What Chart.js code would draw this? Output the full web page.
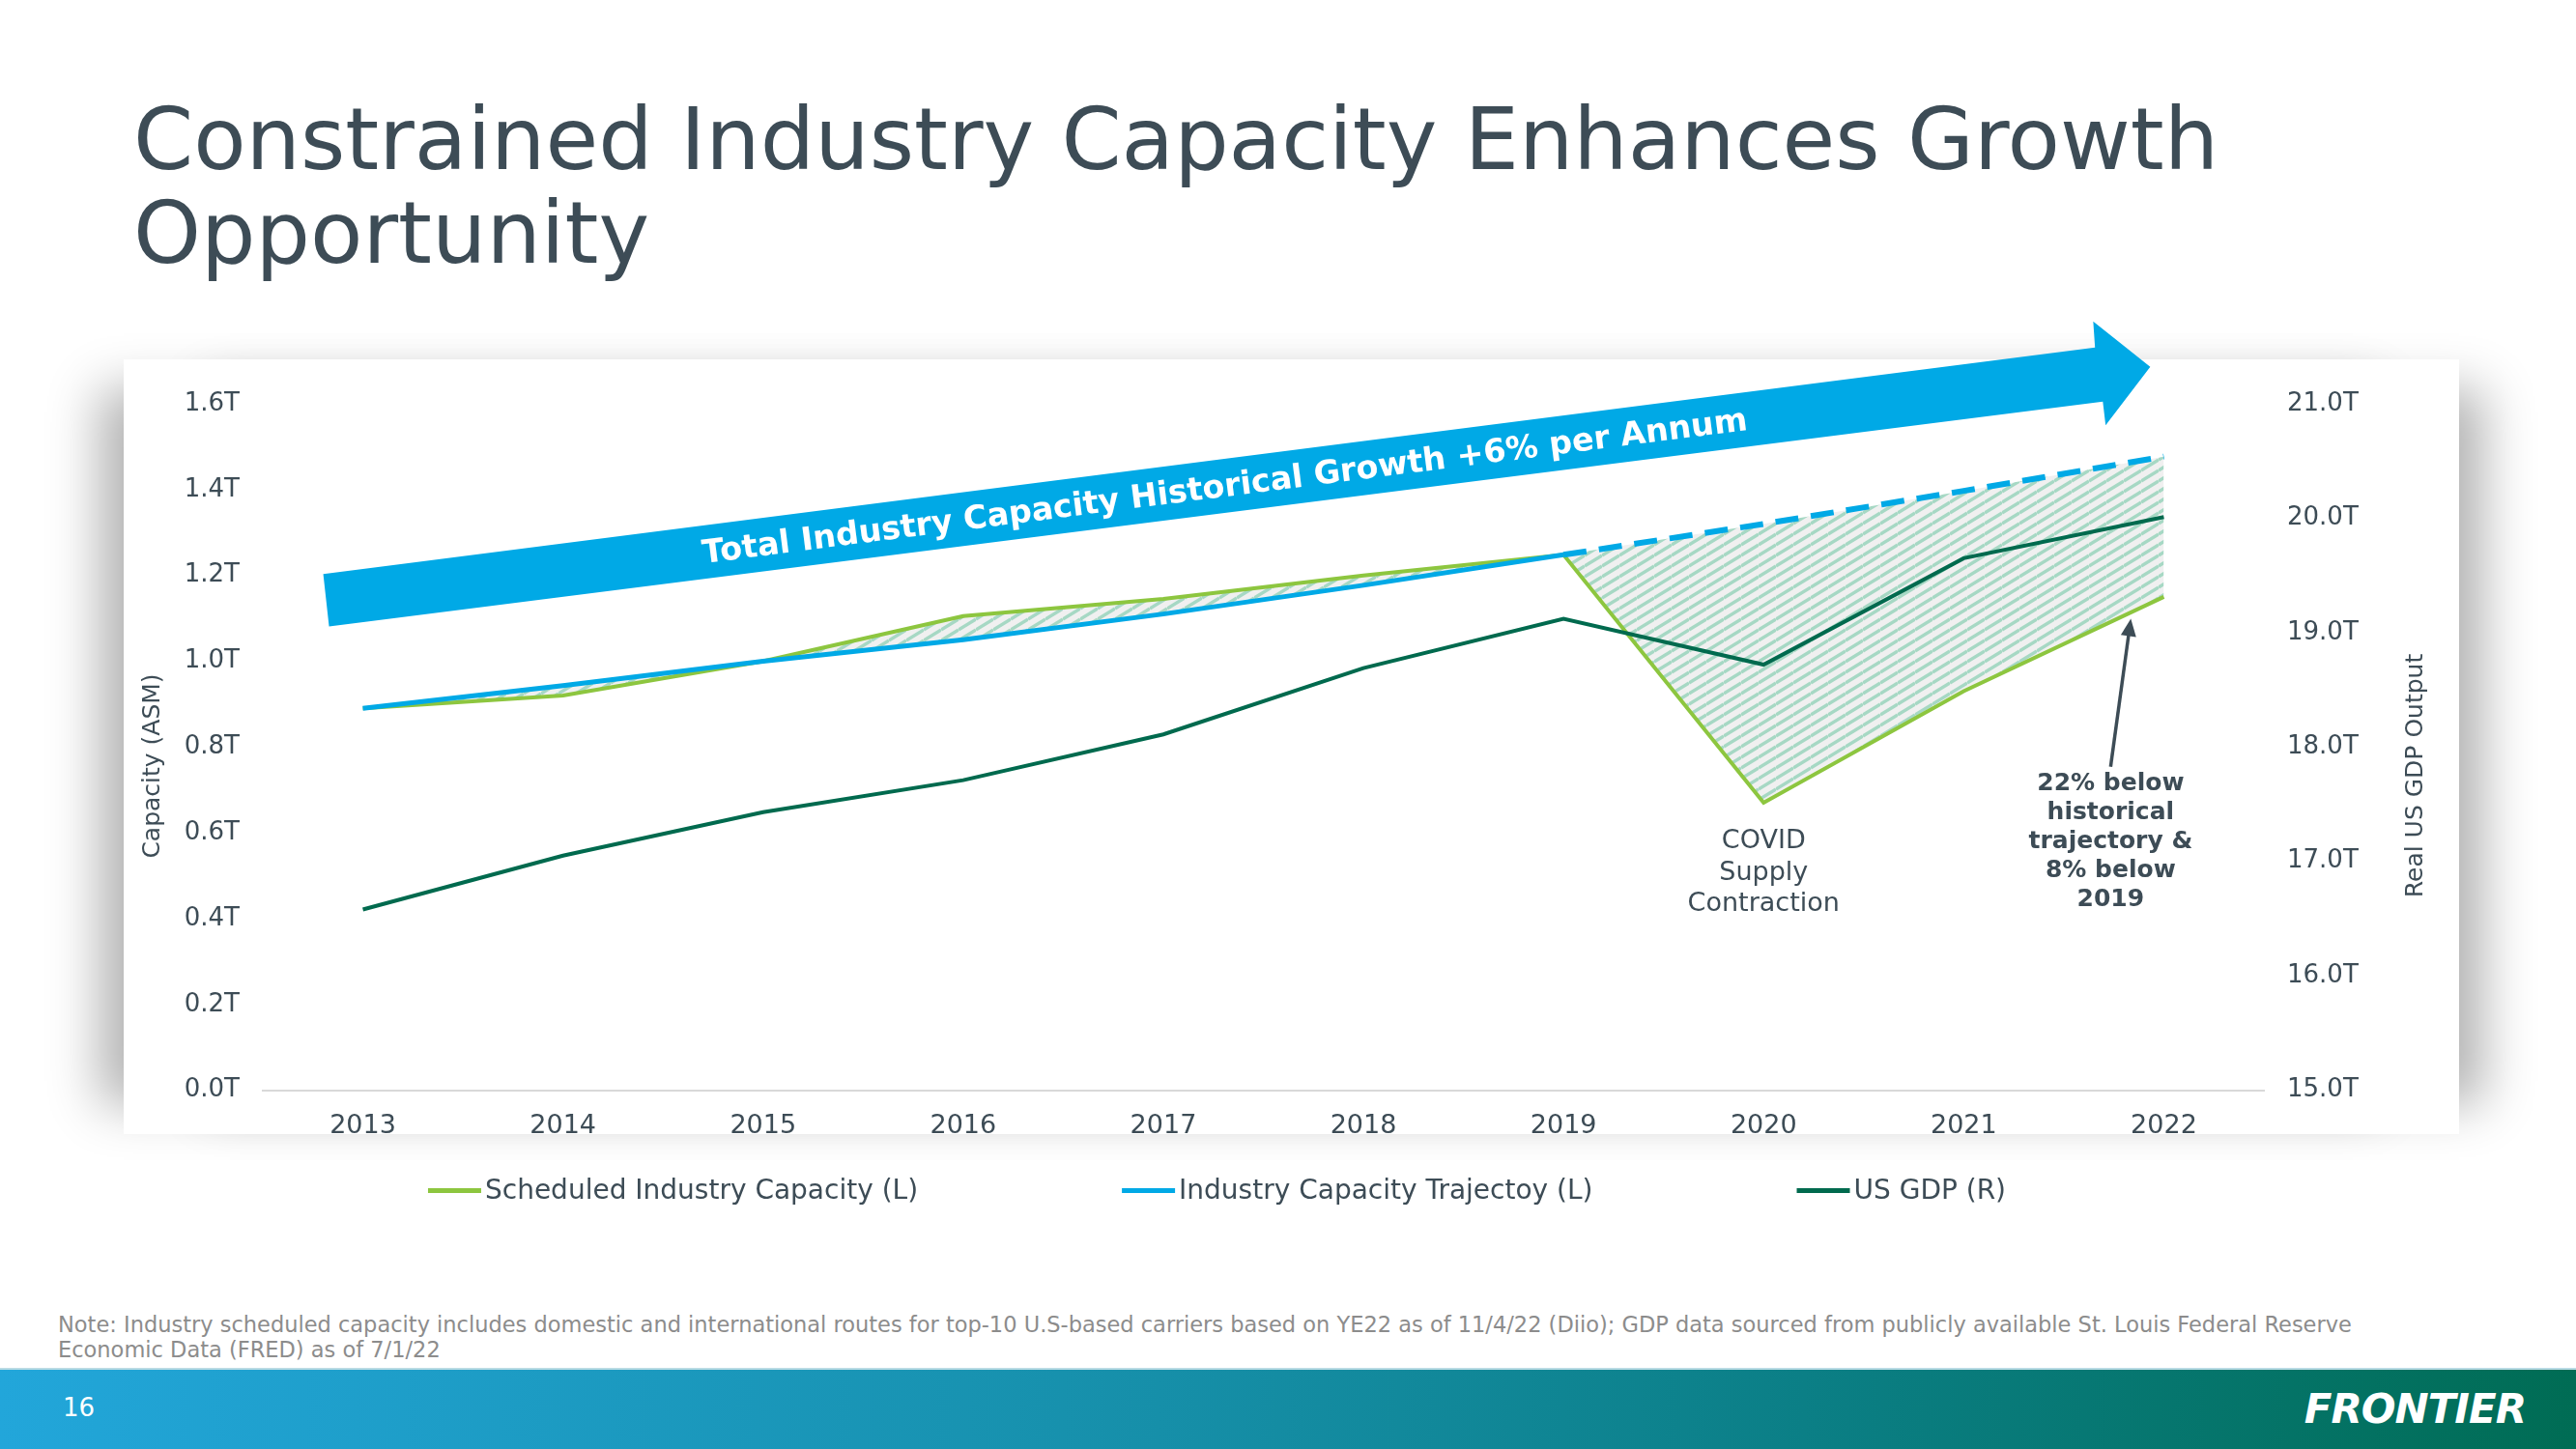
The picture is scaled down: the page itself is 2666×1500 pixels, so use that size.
<!DOCTYPE html>
<html lang="en">
<head>
  <meta charset="UTF-8">
  <title>Constrained Industry Capacity Enhances Growth Opportunity</title>
  <script src="https://cdn.jsdelivr.net/npm/chart.js"></script>
  <style>
    body {
      margin: 0;
      width: 2666px;
      height: 1500px;
      overflow: hidden;
      background: #ffffff;
      font-family: 'DejaVu Sans', Verdana, sans-serif;
      position: relative;
    }
    h1 {
      position: absolute;
      left: 138px;
      top: 96px;
      margin: 0;
      font-weight: normal;
      font-size: 89px;
      line-height: 97px;
      color: #3d4c56;
    }
    .card {
      position: absolute;
      left: 128px;
      top: 372px;
      width: 2417px;
      height: 802px;
      background: #ffffff;
      box-shadow: -55px 0 50px -30px rgba(0, 0, 0, 0.3), 55px 0 50px -30px rgba(0, 0, 0, 0.3);
    }
    #wrap {
      position: absolute;
      left: 128px;
      top: 300px;
      width: 2417px;
      height: 990px;
    }
    .note {
      position: absolute;
      left: 60px;
      top: 1358px;
      font-size: 22.5px;
      line-height: 26px;
      color: #8c8c8c;
      white-space: nowrap;
    }
    .footer {
      position: absolute;
      left: 0;
      top: 1416px;
      width: 2666px;
      height: 84px;
      background: linear-gradient(90deg, #22a6da 0%, #168fa9 45%, #0b7f86 70%, #006c54 100%);
      border-top: 2px solid #b9dbe4;
      box-sizing: border-box;
    }
    .page {
      position: absolute;
      left: 65px;
      top: 24px;
      font-size: 26px;
      color: #ffffff;
    }
    .logo {
      position: absolute;
      right: 52px;
      top: 16px;
      font-size: 42px;
      font-weight: bold;
      font-style: italic;
      color: #ffffff;
      letter-spacing: -1px;
    }
  </style>
</head>
<body>
  <h1>Constrained Industry Capacity Enhances Growth<br>Opportunity</h1>
  <div class="card"></div>
  <div id="wrap"><canvas id="chart"></canvas></div>
  <div class="note">Note: Industry scheduled capacity includes domestic and international routes for top-10 U.S-based carriers based on YE22 as of 11/4/22 (Diio); GDP data sourced from publicly available St. Louis Federal Reserve<br>Economic Data (FRED) as of 7/1/22</div>
  <div class="footer"><span class="page">16</span><span class="logo">FRONTIER</span></div>

  <script>
    const years = ['2013', '2014', '2015', '2016', '2017', '2018', '2019', '2020', '2021', '2022'];
    const scheduledCapacity = [0.89, 0.92, 1.00, 1.105, 1.145, 1.20, 1.248, 0.67, 0.93, 1.15];
    const capacityTrajectory = [0.89, 0.943, 1.00, 1.05, 1.11, 1.177, 1.248, 1.32, 1.397, 1.477];
    const usGdp = [16.58, 17.05, 17.43, 17.71, 18.11, 18.69, 19.12, 18.72, 19.65, 20.01];
    const leftTicks = { min: 0, max: 1.6, step: 0.2 };
    const rightTicks = { min: 15, max: 21, step: 1 };
    const dashFromIndex = 6; // trajectory is a projection after 2019

    const textColor = '#3d4c56';
    const font = "'DejaVu Sans', Verdana, sans-serif";

    // diagonal hatch used for the gap between trajectory and scheduled capacity
    function makeHatch() {
      const w = 18, h = 11;
      const c = document.createElement('canvas');
      c.width = w; c.height = h;
      const g = c.getContext('2d');
      g.fillStyle = '#f0f0f0';
      g.fillRect(0, 0, w, h);
      g.strokeStyle = '#a6d8c4';
      g.lineWidth = 3.4;
      for (const dy of [-h, 0, h]) {
        g.beginPath();
        g.moveTo(0, h + dy);
        g.lineTo(w, dy);
        g.stroke();
      }
      return g.createPattern(c, 'repeat');
    }
    const hatch = makeHatch();

    const decor = {
      id: 'decor',
      afterDatasetsDraw(chart) {
        const { ctx } = chart;
        const xs = chart.scales.x, ys = chart.scales.y;
        const x0 = xs.getPixelForValue(0), x9 = xs.getPixelForValue(9);
        const px = i => x0 + i * (x9 - x0) / 9;
        const py = v => ys.getPixelForValue(v);

        // big growth arrow
        const arrow = [[-0.198, 1.203], [8.656, 1.731], [8.647, 1.792], [8.932, 1.686],
                       [8.709, 1.550], [8.695, 1.605], [-0.169, 1.081]];
        ctx.save();
        ctx.fillStyle = '#00a9e6';
        ctx.beginPath();
        arrow.forEach(([i, v], k) => k ? ctx.lineTo(px(i), py(v)) : ctx.moveTo(px(i), py(v)));
        ctx.closePath();
        ctx.fill();

        const ang = Math.atan2(py(1.731) - py(1.203), px(8.656) - px(-0.198));
        ctx.translate(px(4.307), py(1.408));
        ctx.rotate(ang);
        ctx.fillStyle = '#ffffff';
        ctx.font = 'bold 33.4px ' + font;
        ctx.textAlign = 'center';
        ctx.textBaseline = 'middle';
        ctx.fillText('Total Industry Capacity Historical Growth +6% per Annum', 0, 2);
        ctx.restore();

        // COVID note
        ctx.save();
        ctx.fillStyle = textColor;
        ctx.textAlign = 'center';
        ctx.textBaseline = 'middle';
        ctx.font = '27px ' + font;
        ['COVID', 'Supply', 'Contraction'].forEach((t, k) => ctx.fillText(t, px(7), py(0.58) + k * 32.5));

        // 2022 note with pointer
        ctx.font = 'bold 25px ' + font;
        ['22% below', 'historical', 'trajectory &', '8% below', '2019'].forEach((t, k) =>
          ctx.fillText(t, px(8.734), py(0.713) + k * 30));
        const bx = px(8.734), by = py(0.754), tx = px(8.835), ty = py(1.099);
        const a = Math.atan2(ty - by, tx - bx);
        ctx.strokeStyle = textColor;
        ctx.lineWidth = 3.5;
        ctx.beginPath();
        ctx.moveTo(bx, by);
        ctx.lineTo(tx - 14 * Math.cos(a), ty - 14 * Math.sin(a));
        ctx.stroke();
        ctx.beginPath();
        ctx.moveTo(tx, ty);
        ctx.lineTo(tx - 18 * Math.cos(a) + 8 * Math.sin(a), ty - 18 * Math.sin(a) - 8 * Math.cos(a));
        ctx.lineTo(tx - 18 * Math.cos(a) - 8 * Math.sin(a), ty - 18 * Math.sin(a) + 8 * Math.cos(a));
        ctx.closePath();
        ctx.fill();
        ctx.restore();
      },
      afterDraw(chart) {
        const { ctx, chartArea } = chart;
        ctx.save();
        ctx.fillStyle = textColor;
        ctx.textAlign = 'center';
        ctx.textBaseline = 'middle';
        ctx.font = '25px ' + font;

        // axis titles (both read bottom to top)
        ctx.save();
        ctx.translate(30, chartArea.top + 375);
        ctx.rotate(-Math.PI / 2);
        ctx.fillText('Capacity (ASM)', 0, 0);
        ctx.restore();
        ctx.save();
        ctx.translate(chartArea.right + 157, chartArea.top + 385);
        ctx.rotate(-Math.PI / 2);
        ctx.fillText('Real US GDP Output', 0, 0);
        ctx.restore();

        // legend
        ctx.font = '28px ' + font;
        ctx.textAlign = 'left';
        const items = chart.data.datasets.map(d => ({ label: d.label, color: d.borderColor, w: ctx.measureText(d.label).width }));
        const lineLen = 55, lineGap = 4, gap = 211;
        const total = items.reduce((s, it) => s + lineLen + lineGap + it.w, 0) + gap * (items.length - 1);
        let x = (chartArea.left + chartArea.right) / 2 - 48 - total / 2;
        const y = chartArea.bottom + 104;
        items.forEach(it => {
          ctx.strokeStyle = it.color;
          ctx.lineWidth = 5;
          ctx.beginPath();
          ctx.moveTo(x, y);
          ctx.lineTo(x + lineLen, y);
          ctx.stroke();
          ctx.fillStyle = textColor;
          ctx.fillText(it.label, x + lineLen + lineGap, y + 1);
          x += lineLen + lineGap + it.w + gap;
        });
        ctx.restore();
      }
    };

    const tickFont = { family: font, size: 26 };

    new Chart(document.getElementById('chart'), {
      type: 'line',
      data: {
        labels: years,
        datasets: [
          {
            label: 'Scheduled Industry Capacity (L)',
            data: scheduledCapacity,
            borderColor: '#8dc63f',
            borderWidth: 4,
            yAxisID: 'y',
            order: 2,
            fill: { target: 1, above: hatch, below: hatch }
          },
          {
            label: 'Industry Capacity Trajectoy (L)',
            data: capacityTrajectory,
            borderColor: '#00a9e6',
            borderWidth: 5,
            yAxisID: 'y',
            order: 1,
            segment: {
              borderDash: c => c.p0DataIndex >= dashFromIndex ? [24, 13] : undefined,
              borderWidth: c => c.p0DataIndex >= dashFromIndex ? 6 : undefined
            }
          },
          {
            label: 'US GDP (R)',
            data: usGdp,
            borderColor: '#006a4e',
            borderWidth: 4,
            yAxisID: 'y1',
            order: 0
          }
        ]
      },
      options: {
        responsive: true,
        maintainAspectRatio: false,
        animation: false,
        elements: { point: { radius: 0 }, line: { tension: 0 } },
        layout: { padding: { top: 118, left: 11, right: 0, bottom: 95 } },
        plugins: {
          legend: { display: false },
          tooltip: { enabled: false },
          filler: { propagate: false }
        },
        scales: {
          x: {
            offset: true,
            grid: { display: false },
            border: { display: true, color: '#d9d9d9', width: 2 },
            ticks: { padding: 13, color: textColor, font: { family: font, size: 27 } }
          },
          y: {
            position: 'left',
            min: leftTicks.min,
            max: leftTicks.max,
            grid: { display: false },
            border: { display: false },
            ticks: {
              stepSize: leftTicks.step,
              padding: 16,
              color: textColor,
              font: tickFont,
              callback: v => v.toFixed(1) + 'T'
            },
            afterFit: s => { s.width = 133; }
          },
          y1: {
            position: 'right',
            min: rightTicks.min,
            max: rightTicks.max,
            grid: { display: false },
            border: { display: false },
            ticks: {
              stepSize: rightTicks.step,
              padding: 16,
              color: textColor,
              font: tickFont,
              callback: v => v.toFixed(1) + 'T'
            },
            afterFit: s => { s.width = 202; }
          }
        }
      },
      plugins: [decor]
    });
  </script>
</body>
</html>
